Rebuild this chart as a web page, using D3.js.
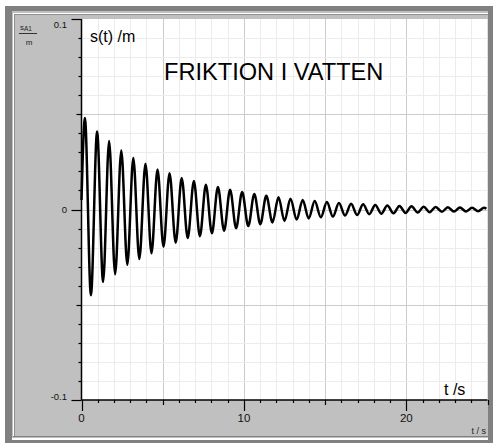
<!DOCTYPE html>
<html>
<head>
<meta charset="utf-8">
<style>
  body { margin: 0; background: #fff; }
  svg text { font-family: "Liberation Sans", Arial, sans-serif; }
</style>
</head>
<body>
<svg id="chart" width="493" height="443"></svg>
<script src="https://cdn.jsdelivr.net/npm/d3@7"></script>
<script>
var turnTimes = [0.21, 0.58, 0.96, 1.33, 1.70, 2.07, 2.45, 2.82, 3.19, 3.56,
    3.94, 4.31, 4.68, 5.05, 5.42, 5.80, 6.17, 6.54, 6.92, 7.29,
    7.66, 8.03, 8.40, 8.78, 9.15, 9.52, 9.89, 10.27, 10.64, 11.01,
    11.38, 11.76, 12.13, 12.50, 12.87, 13.25, 13.62, 13.99, 14.36, 14.74,
    15.11, 15.48, 15.85, 16.23, 16.60, 16.97, 17.34, 17.72, 18.09, 18.46,
    18.83, 19.21, 19.58, 19.95, 20.32, 20.70, 21.07, 21.44, 21.81, 22.19,
    22.56, 22.93, 23.30, 23.68, 24.05, 24.42, 24.79];
var turnValues = [0.048, -0.045, 0.041, -0.038, 0.036, -0.034, 0.031, -0.029, 0.027, -0.026,
    0.024, -0.023, 0.021, -0.0195, 0.019, -0.0175, 0.0165, -0.015, 0.015, -0.014,
    0.013, -0.0125, 0.0118, -0.0111, 0.0104, -0.0098, 0.0092, -0.0087, 0.0082, -0.0077,
    0.0072, -0.0068, 0.0064, -0.006, 0.0056, -0.0053, 0.005, -0.0047, 0.0044, -0.0041,
    0.0039, -0.0037, 0.0034, -0.0032, 0.003, -0.0029, 0.0027, -0.0025, 0.0024, -0.0022,
    0.0021, -0.002, 0.0019, -0.0018, 0.0017, -0.0016, 0.0015, -0.0014, 0.0013, -0.0012,
    0.0012, -0.0011, 0.001, -0.001, 0.0009, -0.0009, 0.0009];
var firstPoint = [0, 0.005];
var lastPoint = [24.93, 0.0004];

var xLabelTicks = [0, 10, 20];
var yLabelTicks = [0.1, 0, -0.1];
var titleText = "FRIKTION I VATTEN";
var yName = "s(t) /m";
var xName = "t /s";

var svg = d3.select("#chart");

// window frame
svg.append("rect").attr("x", 5).attr("y", 6).attr("width", 488).attr("height", 437).attr("fill", "#808080");
svg.append("rect").attr("x", 12).attr("y", 11).attr("width", 478).attr("height", 428).attr("fill", "#c0c0c0");
svg.append("rect").attr("x", 13).attr("y", 13).attr("width", 476).attr("height", 1).attr("fill", "#fff");
svg.append("rect").attr("x", 13).attr("y", 13).attr("width", 1).attr("height", 424).attr("fill", "#fff");
svg.append("rect").attr("x", 14).attr("y", 14).attr("width", 475).attr("height", 1).attr("fill", "#909090");
svg.append("rect").attr("x", 14).attr("y", 14).attr("width", 1).attr("height", 422).attr("fill", "#909090");
svg.append("rect").attr("x", 13).attr("y", 436).attr("width", 476).attr("height", 1).attr("fill", "#808080");
svg.append("rect").attr("x", 12).attr("y", 438).attr("width", 478).attr("height", 2).attr("fill", "#fff");
svg.append("rect").attr("x", 488).attr("y", 6).attr("width", 5).attr("height", 437).attr("fill", "#808080");

var plotL = 81.5, plotR = 487.5, plotT = 19, plotB = 400;

var x = d3.scaleLinear().domain([0, 25]).range([plotL, plotR]);
var y = d3.scaleLinear().domain([-0.1, 0.1]).range([plotB, plotT]);

svg.append("rect").attr("x", plotL).attr("y", plotT).attr("width", plotR - plotL).attr("height", plotB - plotT).attr("fill", "#fff");

var xt = x.ticks(25);
var yt = y.ticks(20);
function isMajorX(d) { return Math.abs(d % 5) < 1e-6; }
function isMajorY(d) { return Math.abs(Math.round(d * 100) % 5) == 0; }

// grid
svg.append("g").selectAll("line").data(xt.filter(d => d > 0 && d < 25)).enter().append("line")
    .attr("x1", d => Math.round(x(d)) + 0.5).attr("x2", d => Math.round(x(d)) + 0.5)
    .attr("y1", plotT).attr("y2", plotB)
    .attr("stroke", d => isMajorX(d) ? "#cbcbcb" : "#ececec");
svg.append("g").selectAll("line").data(yt.filter(d => d > -0.1 + 1e-9 && d < 0.1 - 1e-9)).enter().append("line")
    .attr("y1", d => Math.round(y(d)) + 0.5).attr("y2", d => Math.round(y(d)) + 0.5)
    .attr("x1", plotL).attr("x2", plotR)
    .attr("stroke", d => isMajorY(d) ? "#cbcbcb" : "#ececec");

// axes
svg.append("line").attr("x1", plotL).attr("x2", plotL).attr("y1", plotT).attr("y2", plotB)
    .attr("stroke", "#000").attr("stroke-width", 1.5);
svg.append("line").attr("x1", plotL).attr("x2", plotR).attr("y1", plotB).attr("y2", plotB)
    .attr("stroke", "#000").attr("stroke-width", 1.5);

svg.append("g").selectAll("line").data(yt).enter().append("line")
    .attr("y1", d => Math.round(y(d)) + 0.5).attr("y2", d => Math.round(y(d)) + 0.5)
    .attr("x1", plotL)
    .attr("x2", d => plotL - (Math.abs(Math.round(d * 100) % 10) == 0 ? 10 : isMajorY(d) ? 5 : 3))
    .attr("stroke", "#000").attr("stroke-width", 1.2);
svg.append("g").selectAll("line").data(xt).enter().append("line")
    .attr("x1", d => Math.round(x(d)) + 0.5).attr("x2", d => Math.round(x(d)) + 0.5)
    .attr("y1", plotB)
    .attr("y2", d => plotB + (d % 10 == 0 ? 11 : isMajorX(d) ? 5 : 3))
    .attr("stroke", "#000").attr("stroke-width", 1.2);

svg.append("g").selectAll("text").data(yLabelTicks).enter().append("text")
    .attr("x", 67)
    .attr("y", d => d == 0.1 ? y(d) + 9 : d == 0 ? y(d) + 3.5 : y(d))
    .attr("text-anchor", "end").attr("font-size", 9.5).attr("fill", "#111")
    .text(d => d);
svg.append("g").selectAll("text").data(xLabelTicks).enter().append("text")
    .attr("x", d => x(d)).attr("y", 422)
    .attr("text-anchor", "middle").attr("font-size", 11.5).attr("fill", "#111")
    .text(d => d);

// units in the grey panel
var unit = svg.append("text").attr("x", 20).attr("y", 30).attr("font-size", 8).attr("fill", "#222");
unit.append("tspan").text("s");
unit.append("tspan").attr("font-size", 6.5).attr("dy", 1).text("A1");
svg.append("line").attr("x1", 19).attr("x2", 37).attr("y1", 33.5).attr("y2", 33.5).attr("stroke", "#333");
svg.append("text").attr("x", 29).attr("y", 45).attr("text-anchor", "middle").attr("font-size", 8).attr("fill", "#222").text("m");
svg.append("text").attr("x", 486).attr("y", 434).attr("text-anchor", "end").attr("font-size", 9).attr("fill", "#222").text("t / s");

// curve
var pts = [firstPoint].concat(turnTimes.map((t, i) => [t, turnValues[i]]), [lastPoint]);
var line = d3.line().x(d => x(d[0])).y(d => y(d[1])).curve(d3.curveMonotoneX);
svg.append("path").attr("d", line(pts)).attr("fill", "none")
    .attr("stroke", "#000").attr("stroke-width", 2.5).attr("stroke-linejoin", "round");

// labels inside the plot
svg.append("text").attr("x", 90).attr("y", 41.5).attr("font-size", 16).attr("fill", "#000").text(yName);
svg.append("text").attr("x", 164).attr("y", 80).attr("font-size", 23.6).attr("fill", "#000").text(titleText);
svg.append("text").attr("x", 444).attr("y", 395).attr("font-size", 16).attr("fill", "#000").text(xName);
</script>
</body>
</html>
